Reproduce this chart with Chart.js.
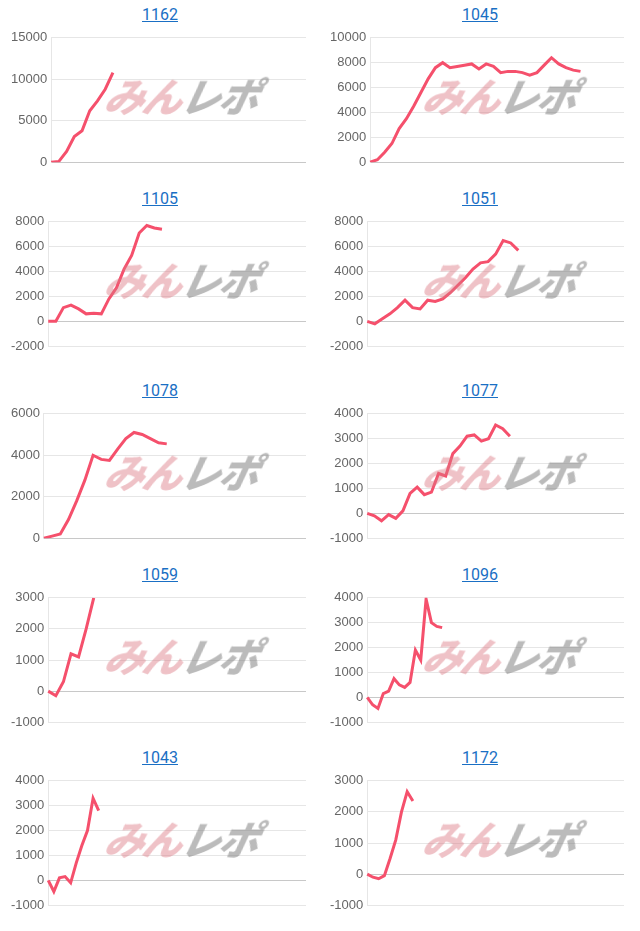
<!DOCTYPE html>
<html><head><meta charset="utf-8">
<script src="https://cdn.jsdelivr.net/npm/chart.js@4/dist/chart.umd.min.js"></script>
<style>
body{margin:0;background:#fff;font-family:Roboto,"Liberation Sans",sans-serif;}
.p{position:absolute;width:320px;height:186px;}
.t{position:absolute;left:0;width:100%;top:5px;text-align:center;font-size:16px;color:#1a6fc4;text-decoration:underline;}
.c{position:absolute;left:0;top:26px;width:320px;height:148px;}
.w{position:absolute;top:66px;font:italic 900 40px "Noto Sans CJK JP";letter-spacing:-2px;pointer-events:none;transform:skewX(-12deg)}
.w .a{color:rgba(220,120,130,0.45)}.w .b{color:rgba(120,120,120,0.5)}
</style></head><body>
<script>
const titles=["1162","1045","1105","1051","1078","1077","1059","1096","1043","1172"];
const slots=[34,36,35,35,33,37,35,49,47,46];
const d1162=[0,100,1300,3100,3800,6200,7400,8800,10800];
const d1045=[0,200,800,1500,2700,3500,4500,5600,6700,7600,8000,7600,7700,7800,7900,7500,7900,7700,7200,7300,7300,7200,7000,7200,7800,8400,7900,7600,7400,7300];
const d1105=[0,0,1100,1300,1000,600,650,600,1800,2700,4200,5300,7100,7700,7500,7400];
const d1051=[0,-200,200,600,1100,1700,1100,1000,1700,1600,1800,2300,2900,3500,4200,4700,4800,5400,6500,6300,5700];
const d1078=[0,100,200,900,1800,2800,4000,3800,3750,4300,4800,5100,5000,4800,4600,4550];
const d1077=[0,-100,-300,-50,-200,100,800,1050,750,850,1600,1500,2400,2700,3100,3150,2900,3000,3550,3400,3100];
const d1059=[0,-150,300,1200,1100,2000,3000];
const d1096=[0,-300,-450,150,250,750,500,400,600,1900,1500,3950,3000,2850,2800];
const d1043=[0,-450,100,150,-100,700,1400,2000,3300,2800];
const d1172=[0,-100,-150,-50,500,1100,2000,2650,2350];
const yMin=[0,0,-2000,-2000,0,-1000,-1000,-1000,-1000,-1000];
const yMax=[15000,10000,8000,8000,6000,4000,3000,4000,4000,3000];
const ySteps=[5000,2000,2000,2000,2000,1000,1000,1000,1000,1000];
const datas=[d1162,d1045,d1105,d1051,d1078,d1077,d1059,d1096,d1043,d1172];
const tops=[0,184,376,560,743];
titles.forEach((t,i)=>{
  const col=i%2,row=Math.floor(i/2);
  const p=document.createElement('div');p.className='p';
  p.style.left=(col*320)+'px';p.style.top=tops[row]+'px';
  p.innerHTML='<div class="t">'+t+'</div><div class="c"><canvas></canvas></div><div class="w" style="left:'+(col?104:106)+'px"><span class="a">みん</span><span class="b">レポ</span></div>';
  document.body.appendChild(p);
  const labels=Array.from({length:slots[i]},(_,k)=>String(k));
  new Chart(p.querySelector('canvas'),{type:'line',
    data:{labels,datasets:[{data:datas[i],borderColor:'#f5506c',borderWidth:3,pointRadius:0,tension:0,fill:false}]},
    options:{responsive:true,maintainAspectRatio:false,animation:false,
      layout:{padding:{left:col?6:7,right:col?16:14,top:2,bottom:2}},
      plugins:{legend:{display:false},tooltip:{enabled:false}},
      scales:{x:{display:true,grid:{display:false},border:{display:false},ticks:{display:false}},
        y:{min:yMin[i],max:yMax[i],ticks:{stepSize:ySteps[i],color:'#666',font:{size:13},padding:4,callback:v=>String(v)},
          grid:{color:c=>c.tick&&c.tick.value===0?'#c8c8c8':'#e6e6e6',drawTicks:false},
          border:{color:'#e6e6e6'}}}}});
});
</script></body></html>
